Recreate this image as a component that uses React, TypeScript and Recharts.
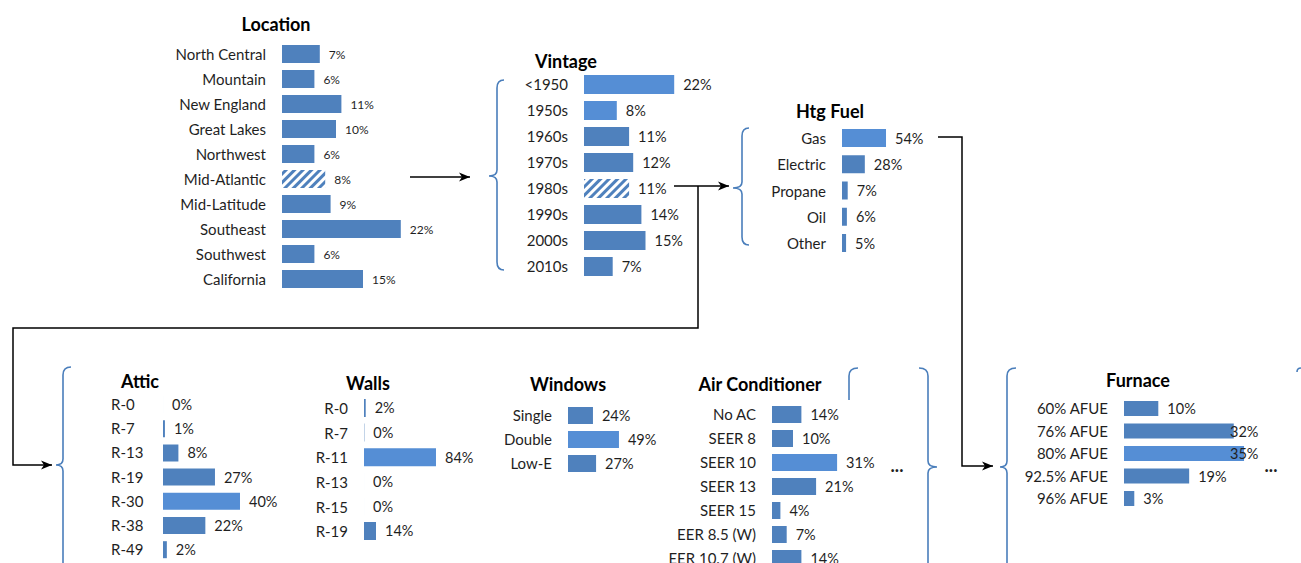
import React from 'react';
import { BarChart, Bar, XAxis, YAxis, Cell, LabelList } from 'recharts';

const FONT = 'Lato, "Noto Sans", sans-serif';
const DARK = '#4F81BD';
const LIGHT = '#558ED5';
const BRACE = '#4A7EBB';
const INK = '#1f1f1f';

// data (shares in %)
const locationLabels = ['North Central', 'Mountain', 'New England', 'Great Lakes', 'Northwest', 'Mid-Atlantic', 'Mid-Latitude', 'Southeast', 'Southwest', 'California'];
const locationValues = [7, 6, 11, 10, 6, 8, 9, 22, 6, 15];

const vintageLabels = ['<1950', '1950s', '1960s', '1970s', '1980s', '1990s', '2000s', '2010s'];
const vintageValues = [22, 8, 11, 12, 11, 14, 15, 7];

const fuelLabels = ['Gas', 'Electric', 'Propane', 'Oil', 'Other'];
const fuelValues = [54, 28, 7, 6, 5];

const atticLabels = ['R-0', 'R-7', 'R-13', 'R-19', 'R-30', 'R-38', 'R-49'];
const atticValues = [0, 1, 8, 27, 40, 22, 2];

const wallLabels = ['R-0', 'R-7', 'R-11', 'R-13', 'R-15', 'R-19'];
const wallValues = [2, 0.4, 84, 0, 0, 14];

const windowLabels = ['Single', 'Double', 'Low-E'];
const windowValues = [24, 49, 27];

const acLabels = ['No AC', 'SEER 8', 'SEER 10', 'SEER 13', 'SEER 15', 'EER 8.5 (W)', 'EER 10.7 (W)'];
const acValues = [14, 10, 31, 21, 4, 7, 14];

const furnaceLabels = ['60% AFUE', '76% AFUE', '80% AFUE', '92.5% AFUE', '96% AFUE'];
const furnaceValues = [10, 32, 35, 19, 3];

interface PanelProps {
  labels: string[];
  values: number[];
  light?: number[];
  hatched?: number;
  barX: number;
  labelX: number;
  anchor?: 'start' | 'end';
  firstY: number;
  step: number;
  barH: number;
  pxPer: number;
  valSize?: number;
  valCap?: number;
}

const AXIS_W = 200;
const PLOT_W = 200;

function Panel(p: PanelProps) {
  const left = p.barX - AXIS_W;
  const top = p.firstY - p.step / 2;
  const height = p.labels.length * p.step;
  const data = p.labels.map((name, i) => ({ name, value: p.values[i] }));
  const anchor = p.anchor || 'end';
  const valSize = p.valSize || 14.5;

  return (
    <div style={{ position: 'absolute', left, top }}>
      <BarChart width={AXIS_W + PLOT_W} height={height} data={data} layout="vertical"
        margin={{ top: 0, right: 0, bottom: 0, left: 0 }}>
        <XAxis type="number" domain={[0, PLOT_W / p.pxPer]} allowDataOverflow hide />
        <YAxis type="category" dataKey="name" width={AXIS_W} axisLine={false} tickLine={false} interval={0}
          tick={(t: any) => (
            <text x={p.labelX - left} y={t.y} textAnchor={anchor} dominantBaseline="central"
              fontFamily={FONT} fontSize={15} fill={INK}>{t.payload.value}</text>
          )} />
        <Bar dataKey="value" barSize={p.barH} minPointSize={0.01} isAnimationActive={false}>
          {data.map((d, i) => (
            <Cell key={i} fill={i === p.hatched ? 'url(#hatch)' : (p.light || []).includes(i) ? LIGHT : DARK} />
          ))}
          <LabelList dataKey="value" content={(l: any) => {
            let x = Number(l.x) + Number(l.width) + 9;
            if (p.valCap !== undefined) x = Math.min(x, p.valCap - left);
            return (
              <text x={x} y={Number(l.y) + Number(l.height) / 2} dominantBaseline="central"
                fontFamily={FONT} fontSize={valSize} fill={INK}>{Math.round(Number(l.value))}%</text>
            );
          }} />
        </Bar>
      </BarChart>
    </div>
  );
}

function leftBrace(xv: number, y1: number, y2: number, xt: number, ym: number, hook: number) {
  return `M ${hook} ${y1} Q ${xv} ${y1} ${xv} ${y1 + 8} L ${xv} ${ym - 6} Q ${xv} ${ym} ${xt} ${ym} Q ${xv} ${ym} ${xv} ${ym + 6} L ${xv} ${y2 - 8} Q ${xv} ${y2} ${hook} ${y2}`;
}

const titles = [
  { text: 'Location', x: 276, y: 24 },
  { text: 'Vintage', x: 566, y: 61 },
  { text: 'Htg Fuel', x: 830, y: 111 },
  { text: 'Attic', x: 140, y: 381 },
  { text: 'Walls', x: 368, y: 383 },
  { text: 'Windows', x: 568, y: 384 },
  { text: 'Air Conditioner', x: 760, y: 384 },
  { text: 'Furnace', x: 1138, y: 380 },
];

export default function App() {
  return (
    <div style={{ position: 'absolute', left: 0, top: 0, width: 1301, height: 563, overflow: 'hidden', background: '#fff' }}>
      <svg width={0} height={0} style={{ position: 'absolute' }}>
        <defs>
          <pattern id="hatch" patternUnits="userSpaceOnUse" width={6} height={6} patternTransform="rotate(45)">
            <rect width={6} height={6} fill="#fff" />
            <rect width={3} height={6} fill={DARK} />
          </pattern>
        </defs>
      </svg>

      <Panel labels={locationLabels} values={locationValues} hatched={5}
        barX={282} labelX={266} firstY={53} step={25} barH={18} pxPer={5.4} valSize={12} />
      <Panel labels={vintageLabels} values={vintageValues} light={[0, 1]} hatched={4}
        barX={584} labelX={568} firstY={84} step={26} barH={19} pxPer={4.1} />
      <Panel labels={fuelLabels} values={fuelValues} light={[0]}
        barX={842} labelX={826} firstY={138} step={26.25} barH={18} pxPer={0.815} />
      <Panel labels={atticLabels} values={atticValues} light={[4]}
        barX={163} labelX={111} anchor="start" firstY={404} step={24.2} barH={17} pxPer={1.925} />
      <Panel labels={wallLabels} values={wallValues} light={[2]}
        barX={364} labelX={348} firstY={408} step={24.6} barH={18} pxPer={0.857} />
      <Panel labels={windowLabels} values={windowValues} light={[1]}
        barX={568} labelX={552} firstY={415} step={24} barH={17} pxPer={1.04} />
      <Panel labels={acLabels} values={acValues} light={[2]}
        barX={772} labelX={756} firstY={414} step={24} barH={17} pxPer={2.1} />
      <Panel labels={furnaceLabels} values={furnaceValues} light={[2]}
        barX={1124} labelX={1108} firstY={408} step={22.5} barH={15} pxPer={3.43} valCap={1230} />

      <svg width={1301} height={563} style={{ position: 'absolute', left: 0, top: 0, pointerEvents: 'none' }}>
        <defs>
          <marker id="arrow" markerUnits="userSpaceOnUse" markerWidth={12} markerHeight={10} refX={11} refY={5} orient="auto">
            <path d="M 0 0.5 L 11 5 L 0 9.5 L 3 5 Z" fill="#000" />
          </marker>
        </defs>
        {titles.map((t) => (
          <text key={t.text} x={t.x} y={t.y} textAnchor="middle" dominantBaseline="central"
            fontFamily={FONT} fontWeight={700} fontSize={18} fill="#000">{t.text}</text>
        ))}

        <g fill="none" stroke={BRACE} strokeWidth={1.6}>
          <path d={leftBrace(497, 80, 270, 489, 176, 504)} />
          <path d={leftBrace(742, 128, 245, 733, 188, 749)} />
          <path d={leftBrace(63, 367, 590, 56, 465, 71)} />
          <path d={leftBrace(1007, 368, 590, 1000, 467, 1016)} />
          <path d={leftBrace(928, 368, 590, 937, 467, 919)} />
          <path d="M 858 368 Q 849 368 849 376 L 849 400" />
          <path d="M 1301 368 Q 1297 368 1297 372" />
        </g>

        <g fill="none" stroke="#000" strokeWidth={1.5}>
          <path d="M 410 177 L 470 177" markerEnd="url(#arrow)" />
          <path d="M 674 186 L 729 186" markerEnd="url(#arrow)" />
          <path d="M 698 186 L 698 328 L 13 328 L 13 465 L 52 465" markerEnd="url(#arrow)" />
          <path d="M 938 137 L 962 137 L 962 466 L 993 466" markerEnd="url(#arrow)" />
        </g>

        <text x={897} y={465} textAnchor="middle" dominantBaseline="central" fontFamily={FONT} fontWeight={700} fontSize={18} fill={INK}>...</text>
        <text x={1271} y={465} textAnchor="middle" dominantBaseline="central" fontFamily={FONT} fontWeight={700} fontSize={18} fill={INK}>...</text>
      </svg>
    </div>
  );
}
